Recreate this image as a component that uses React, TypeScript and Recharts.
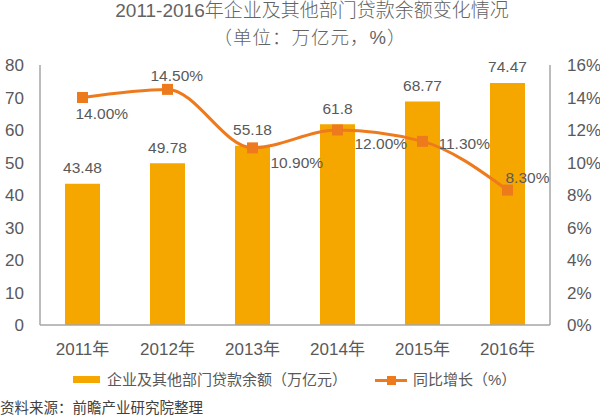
import React from "react";
import { ComposedChart, Bar, Line, XAxis, YAxis, LabelList } from "recharts";

const years = ["2011年", "2012年", "2013年", "2014年", "2015年", "2016年"];
const balance = [43.48, 49.78, 55.18, 61.8, 68.77, 74.47];
const growth = [14.0, 14.5, 10.9, 12.0, 11.3, 8.3];
const leftTicks = [0, 10, 20, 30, 40, 50, 60, 70, 80];
const rightTicks = [0, 2, 4, 6, 8, 10, 12, 14, 16];

const BAR = "#F5A700";
const LINE = "#EE7A1E";
const TEXT = "#595959";
const AXIS = "#A6A6A6";
const FONT = "'Liberation Sans', 'Noto Sans CJK SC', sans-serif";

// label nudges for the growth line, per point (dx, dy)
const growthOffsets = [
  [-7, 16],
  [-17, -14],
  [18, 15],
  [17, 13],
  [16, 2],
  [-2, -13],
];

const data = years.map((year, i) => ({ year, balance: balance[i], growth: growth[i] }));

function SquareDot(props: any) {
  const { cx, cy } = props;
  if (cx == null || cy == null) return null;
  return <rect x={cx - 5.5} y={cy - 5.5} width={11} height={11} fill={LINE} />;
}

function BarLabel(props: any) {
  const { x, y, width, value } = props;
  return (
    <text
      x={x + width / 2}
      y={y - 16}
      textAnchor="middle"
      dominantBaseline="central"
      fill={TEXT}
      fontSize={15.5}
      fontFamily={FONT}
    >
      {value}
    </text>
  );
}

function GrowthLabel(props: any) {
  const { x, y, value, index } = props;
  const [dx, dy] = growthOffsets[index] ?? [0, -12];
  return (
    <text
      x={x + dx}
      y={y + dy}
      textAnchor="start"
      dominantBaseline="central"
      fill={TEXT}
      fontSize={15.5}
      fontFamily={FONT}
    >
      {Number(value).toFixed(2)}%
    </text>
  );
}

export default function App() {
  const tick = { fill: TEXT, fontSize: 17, fontFamily: FONT };
  return (
    <div
      style={{
        position: "absolute",
        left: 0,
        top: 0,
        width: 600,
        height: 420,
        background: "#fff",
        fontFamily: FONT,
        color: TEXT,
        overflow: "hidden",
      }}
    >
      <div style={{ position: "absolute", left: 0, width: 624, top: 0, textAlign: "center", fontSize: 19, lineHeight: "22px", fontWeight: 300, color: "#636363", whiteSpace: "nowrap" }}>
        2011-2016年企业及其他部门贷款余额变化情况
      </div>
      <div style={{ position: "absolute", left: 0, width: 620, top: 27, textAlign: "center", fontSize: 18.5, letterSpacing: 1, lineHeight: "22px", fontWeight: 300, color: "#636363", whiteSpace: "nowrap" }}>
        （单位：万亿元，%）
      </div>

      <ComposedChart
        width={600}
        height={420}
        data={data}
        margin={{ top: 65, right: 0, left: 0, bottom: 65 }}
      >
        <XAxis
          dataKey="year"
          tick={tick}
          tickLine={false}
          tickMargin={12}
          axisLine={{ stroke: AXIS, strokeWidth: 1.5 }}
        />
        <YAxis
          yAxisId="left"
          domain={[0, 80]}
          ticks={leftTicks}
          width={40}
          tick={tick}
          tickLine={false}
          tickMargin={10}
          axisLine={{ stroke: AXIS, strokeWidth: 1.5 }}
        />
        <YAxis
          yAxisId="right"
          orientation="right"
          domain={[0, 16]}
          ticks={rightTicks}
          width={50}
          tick={tick}
          tickLine={false}
          tickMargin={11}
          tickFormatter={(v) => `${v}%`}
          axisLine={{ stroke: AXIS, strokeWidth: 1.5 }}
        />
        <Bar yAxisId="left" dataKey="balance" fill={BAR} barSize={35} isAnimationActive={false}>
          <LabelList dataKey="balance" content={BarLabel} />
        </Bar>
        <Line
          yAxisId="right"
          type="monotone"
          dataKey="growth"
          stroke={LINE}
          strokeWidth={3}
          dot={<SquareDot />}
          activeDot={false}
          isAnimationActive={false}
        >
          <LabelList dataKey="growth" content={GrowthLabel} />
        </Line>
      </ComposedChart>

      <div style={{ position: "absolute", left: 73, top: 376, width: 27, height: 7, background: BAR }} />
      <div style={{ position: "absolute", left: 107, top: 369, fontSize: 15, lineHeight: "22px", whiteSpace: "nowrap" }}>
        企业及其他部门贷款余额（万亿元）
      </div>
      <div style={{ position: "absolute", left: 375, top: 378.5, width: 32, height: 3, background: LINE }} />
      <div style={{ position: "absolute", left: 387, top: 375.5, width: 9, height: 9, background: LINE }} />
      <div style={{ position: "absolute", left: 413, top: 369, fontSize: 15, lineHeight: "22px", whiteSpace: "nowrap" }}>
        同比增长（%）
      </div>
      <div style={{ position: "absolute", left: 0, top: 398, fontSize: 14.5, lineHeight: "20px", color: "#404040", whiteSpace: "nowrap" }}>
        资料来源：前瞻产业研究院整理
      </div>
    </div>
  );
}
